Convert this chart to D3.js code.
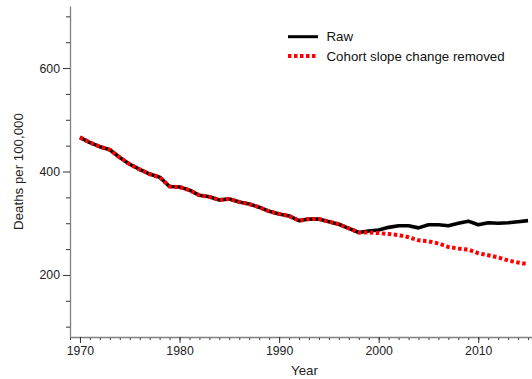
<!DOCTYPE html>
<html>
<head>
<meta charset="utf-8">
<script src="https://cdn.jsdelivr.net/npm/d3@7"></script>
<style>
    body { margin: 0; background: #fff; }
    svg { display: block; font-family: "Liberation Sans", Arial, sans-serif; }
    .axis path { stroke: #808080; stroke-width: 1.3px; }
    .axis line { stroke: #333; }
    .axis text { fill: #222; font-size: 12.3px; }
</style>
</head>
<body>
<script>
//years on the x axis
var years = [1970, 1971, 1972, 1973, 1974, 1975, 1976, 1977, 1978, 1979,
    1980, 1981, 1982, 1983, 1984, 1985, 1986, 1987, 1988, 1989,
    1990, 1991, 1992, 1993, 1994, 1995, 1996, 1997, 1998, 1999,
    2000, 2001, 2002, 2003, 2004, 2005, 2006, 2007, 2008, 2009,
    2010, 2011, 2012, 2013, 2014, 2015];

//raw death rates per 100,000
var raw = [466, 456, 448, 442, 427, 414, 404, 395, 389, 371,
    370, 364, 354, 351, 345, 347, 341, 337, 331, 323,
    318, 314, 305, 308, 308, 303, 298, 290, 282, 285,
    287, 292, 295, 295, 291, 297, 297, 295, 300, 304,
    297, 301, 300, 301, 303, 305];

//rates with the cohort slope change removed
var adjusted = [466, 456, 448, 442, 427, 414, 404, 395, 389, 371,
    370, 364, 354, 351, 345, 347, 341, 337, 331, 323,
    318, 314, 305, 308, 308, 303, 298, 290, 282, 282,
    281, 279, 277, 273, 267, 265, 261, 254, 251, 249,
    242, 238, 234, 228, 224, 221];

//tick values
var yMajor = [200, 400, 600];
var yMinor = [100, 150, 250, 300, 350, 450, 500, 550, 650, 700];
var xMajor = [1970, 1980, 1990, 2000, 2010];

var seriesNames = ["Raw", "Cohort slope change removed"];

window.onload = drawChart();

function drawChart(){

    var width = 532,
        height = 379;

    var svg = d3.select("body")
        .append("svg")
        .attr("width", width)
        .attr("height", height);

    //plot area runs past the right edge, like the cropped original
    var x = d3.scaleLinear()
        .domain([1969, 2016.1])
        .range([70, 539]);

    var y = d3.scaleLinear()
        .domain([80, 720])
        .range([337, 6]);

    //minor ticks first, then major ones with labels
    svg.append("g")
        .attr("class", "axis")
        .attr("transform", "translate(0,337)")
        .call(d3.axisBottom(x).tickValues(d3.range(1969, 2017)).tickSize(3).tickFormat(""))
        .select(".domain").remove();

    svg.append("g")
        .attr("class", "axis")
        .attr("transform", "translate(70,0)")
        .call(d3.axisLeft(y).tickValues(yMinor).tickSize(4).tickFormat(""))
        .select(".domain").remove();

    svg.append("g")
        .attr("class", "axis")
        .attr("transform", "translate(0,337)")
        .call(d3.axisBottom(x).tickValues(xMajor).tickSize(6).tickSizeOuter(0).tickPadding(3).tickFormat(d3.format("d")));

    svg.append("g")
        .attr("class", "axis")
        .attr("transform", "translate(70,0)")
        .call(d3.axisLeft(y).tickValues(yMajor).tickSize(7).tickSizeOuter(0).tickPadding(3));

    //axis titles
    svg.append("text")
        .attr("x", 304.5)
        .attr("y", 375)
        .attr("text-anchor", "middle")
        .style("font-size", "13.3px")
        .style("fill", "#222")
        .text("Year");

    svg.append("text")
        .attr("transform", "translate(23,171.5) rotate(-90)")
        .attr("text-anchor", "middle")
        .style("font-size", "13.3px")
        .style("fill", "#222")
        .text("Deaths per 100,000");

    //line generators
    var lineRaw = d3.line()
        .x(function(d, i){ return x(years[i]); })
        .y(function(d){ return y(d); });

    svg.append("path")
        .datum(raw)
        .attr("fill", "none")
        .attr("stroke", "#000")
        .attr("stroke-width", 3.6)
        .attr("stroke-linejoin", "round")
        .attr("d", lineRaw);

    svg.append("path")
        .datum(adjusted)
        .attr("fill", "none")
        .attr("stroke", "#ff0000")
        .attr("stroke-width", 4)
        .attr("stroke-dasharray", "3.5,2.5")
        .attr("d", lineRaw);

    //legend
    var legend = svg.append("g");

    legend.append("line")
        .attr("x1", 288).attr("x2", 318)
        .attr("y1", 36.7).attr("y2", 36.7)
        .attr("stroke", "#000")
        .attr("stroke-width", 3);

    legend.append("line")
        .attr("x1", 288).attr("x2", 318)
        .attr("y1", 56).attr("y2", 56)
        .attr("stroke", "#ff0000")
        .attr("stroke-width", 4)
        .attr("stroke-dasharray", "3.5,2.5");

    legend.selectAll(".legendText")
        .data(seriesNames)
        .enter()
        .append("text")
        .attr("class", "legendText")
        .attr("x", 326.5)
        .attr("y", function(d, i){ return 36.7 + i * 19.3; })
        .attr("dy", "0.35em")
        .style("font-size", "13.3px")
        .style("fill", "#111")
        .text(function(d){ return d; });
};
</script>
</body>
</html>
